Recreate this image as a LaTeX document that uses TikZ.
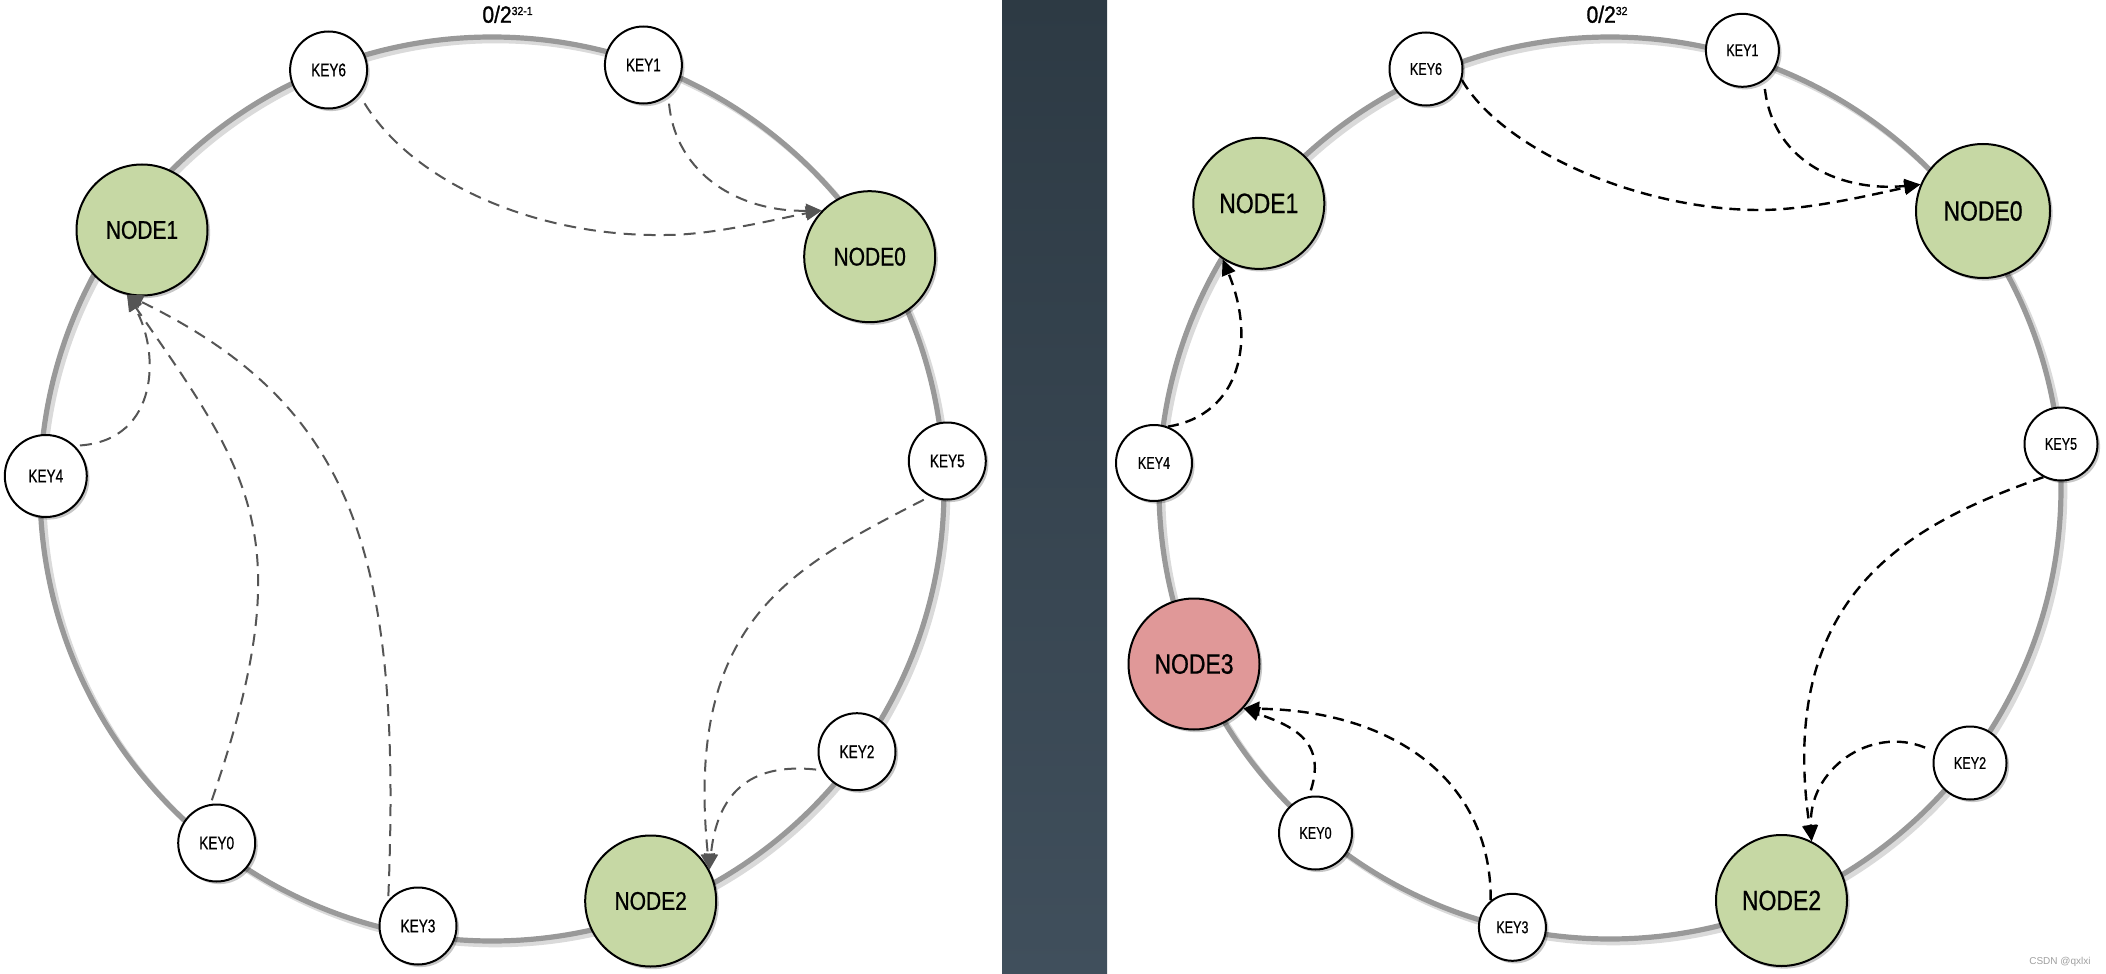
\documentclass[tikz,border=0pt]{standalone}
\usepackage{fontspec}
\setmainfont{Liberation Sans}
\newfontfamily\narrowfont[FakeStretch=0.82,FakeBold=0.7]{Liberation Sans}
\newfontfamily\keyfont[FakeStretch=0.74,FakeBold=0.6]{Liberation Sans}
\newfontfamily\titlefont[FakeStretch=0.9,FakeBold=1.2]{Liberation Sans}
\usetikzlibrary{arrows.meta,shadows}
\definecolor{ringgray}{HTML}{999999}
\definecolor{ringshade}{HTML}{DADADA}
\definecolor{nodegreen}{HTML}{C6D8A4}
\definecolor{nodered}{HTML}{E09898}
\definecolor{arrgray}{HTML}{555555}
\definecolor{bandtop}{HTML}{2D3A44}
\definecolor{bandbot}{HTML}{404F5C}
\definecolor{wmgray}{HTML}{A0A0A0}
\begin{document}
\begin{tikzpicture}[x=0.5pt,y=-0.5pt,
  ring/.style={draw=ringgray,line width=2.6pt},
  ringshadow/.style={draw=ringshade,line width=2.8pt},
  shad/.style={drop shadow={shadow xshift=1.3pt,shadow yshift=-1.3pt,opacity=0.22,fill=black}},
  keybase/.style={circle,draw=black,line width=1pt,fill=white,inner sep=0pt,shad},
  keyL/.style={keybase,minimum size=38.5pt,font=\keyfont\fontsize{9.2}{9.2}\selectfont},
  keyR/.style={keybase,minimum size=36.5pt,font=\keyfont\fontsize{8.5}{8.5}\selectfont},
  nodebase/.style={circle,draw=black,line width=1pt,inner sep=0pt,minimum size=65.5pt,shad},
  nodeL/.style={nodebase,fill=nodegreen,font=\narrowfont\fontsize{12.8}{12.8}\selectfont},
  nodeR/.style={nodebase,fill=nodegreen,font=\narrowfont\fontsize{14}{14}\selectfont},
  nodeRed/.style={nodeR,fill=nodered},
  titletext/.style={anchor=base,inner sep=0pt,font=\titlefont\fontsize{11.7}{12}\selectfont},
  arrL/.style={draw=arrgray,line width=1pt,dash pattern=on 6pt off 4pt,-{Triangle[length=8pt,width=7pt]}},
  arrR/.style={draw=black,line width=1.2pt,dash pattern=on 5.5pt off 3.5pt,-{Triangle[length=8pt,width=7pt]}}
]
\useasboundingbox (0,0) rectangle (2106,974);
\fill[white] (0,0) rectangle (2106,974);
% dark separator band
\shade[top color=bandtop,bottom color=bandbot] (1002,0) rectangle (1107,974);

% ===== left ring =====
\draw[ringshadow] (495.5,492.5) circle[radius=452];
\draw[ring] (492,489) circle[radius=452];
\node[titletext] (tl) at (507.5,22.7) {0/2\raisebox{3.85pt}{\fontsize{5.8}{6}\selectfont 32-1}};

\node[keyL] (k6) at (328.6,70) {KEY6};
\node[keyL] (k1) at (643.4,65) {KEY1};
\node[nodeL] (n1) at (142,230) {NODE1};
\node[nodeL] (n0) at (869.7,256.7) {NODE0};
\node[keyL,minimum size=41pt] (k4) at (45.8,476) {KEY4};
\node[keyL] (k5) at (947.3,461) {KEY5};
\node[keyL] (k2) at (857,751.7) {KEY2};
\node[keyL] (k0) at (216.7,843) {KEY0};
\node[keyL] (k3) at (418,926) {KEY3};
\node[nodeL] (n2) at (650.7,901) {NODE2};

\draw[arrL,shorten <=5pt] (k6.-39) .. controls (415,185) and (540,237) .. (665,235)
   .. controls (715,235) and (778.5,218.4) .. (n0.136);
\draw[arrL,shorten <=4pt] (k1.-51) .. controls (676,175) and (740,212) .. (n0.136);
\draw[arrL,shorten <=2.5pt] (k4.46) .. controls (160,440) and (160,350) .. (n1.-103);
\draw[arrL,shorten <=2pt] (k0.99) .. controls (302.4,536.8) and (251.2,474.6) .. (n1.-103);
\draw[arrL,shorten <=2pt] (k3.139) .. controls (402.5,547) and (350.5,404.5) .. (n1.-103);
\draw[arrL,shorten <=3.5pt] (k5.-116) .. controls (791.7,567.8) and (684,620.5) .. (n2.28);
\draw[arrL,shorten <=3pt] (k2.-152) .. controls (747.4,762.1) and (716.7,796) .. (n2.28);

% ===== right ring =====
\draw[ringshadow] (1613.5,491.5) circle[radius=451];
\draw[ring] (1610,488) circle[radius=451];
\node[titletext] (tr) at (1607,22.7) {0/2\raisebox{3.85pt}{\fontsize{5.8}{6}\selectfont 32}};

\node[keyR] (rk6) at (1426,69) {KEY6};
\node[keyR] (rk1) at (1742.4,50.3) {KEY1};
\node[nodeR] (rn1) at (1258.8,203.4) {NODE1};
\node[nodeR,minimum size=67pt] (rn0) at (1983,211) {NODE0};
\node[keyR,minimum size=38pt] (rk4) at (1154,463) {KEY4};
\node[keyR] (rk5) at (2061,444) {KEY5};
\node[nodeRed] (rn3) at (1194,664) {NODE3};
\node[keyR] (rk2) at (1970,763) {KEY2};
\node[keyR] (rk0) at (1315.5,833) {KEY0};
\node[keyR,minimum size=33.5pt] (rk3) at (1512.4,927.3) {KEY3};
\node[nodeR] (rn2) at (1781.5,900.5) {NODE2};

\draw[arrR] (rk6.-17) .. controls (1503,150.3) and (1640,210) .. (1760,210)
   .. controls (1810,210) and (1876.4,193.6) .. (rn0.157);
\draw[arrR,shorten <=4pt] (rk1.-55) .. controls (1774,165) and (1845,192) .. (rn0.157);
\draw[arrR] (rk4.69) .. controls (1241.4,414.6) and (1255.9,339.1) .. (rn1.-123);
\draw[arrR,shorten <=3pt] (rk0.100) .. controls (1327.6,738.3) and (1287.8,724.7) .. (rn3.-42);
\draw[arrR] (rk3.129) .. controls (1491.7,781.7) and (1395,710.7) .. (rn3.-42);
\draw[arrR] (rk5.-118) .. controls (1921.1,520.9) and (1774.4,585.9) .. (rn2.63);
\draw[arrR,shorten <=5pt] (rk2.162) .. controls (1870,725) and (1808,770) .. (rn2.63);

\node[anchor=base east,inner sep=0pt,text=wmgray,font=\fontsize{5}{5}\selectfont] (wm) at (2091,964) {CSDN @qxlxi};
\end{tikzpicture}
\end{document}
